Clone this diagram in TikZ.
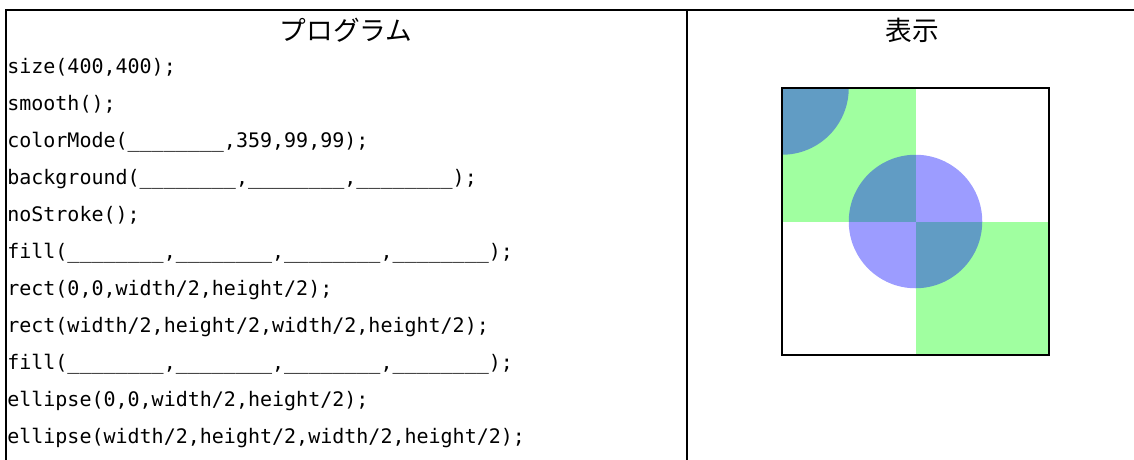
\documentclass[tikz,border=0pt]{standalone}
\usepackage{fontspec}
\usetikzlibrary{positioning}
\newfontfamily\codefont{DejaVu Sans Mono}
\newfontfamily\jpfont{Noto Sans CJK JP}
\definecolor{rectgreen}{RGB}{160,255,160}
\definecolor{ballblue}{RGB}{0,0,255}
\newcommand{\blank}{\_\_\_\_\_\_\_\_}

\begin{document}
\begin{tikzpicture}[x=0.75pt,y=-0.75pt,
  codeline/.style={anchor=north west,inner sep=0pt,text height=11pt,text depth=4pt,
    font=\codefont\fontsize{15pt}{18pt}\selectfont},
  head/.style={inner sep=0pt,font=\jpfont\fontsize{20pt}{24pt}\selectfont},
  tablerule/.style={line width=1.5pt}]
\useasboundingbox[fill=white] (0,0) rectangle (1134,460);
% table
\coordinate (tl) at (5.5,10);
\coordinate (tr) at (1134,10);
\coordinate (bl) at (5.5,460);
\coordinate (mt) at (687,10);
\coordinate (mb) at (687,460);
\draw[tablerule] (bl) -- (tl) -- (tr);
\draw[tablerule] (mt) -- (mb);
\node[head] (prog) at (346,30) {プログラム};
\node[head] (disp) at (912,30) {表示};
% program
\node[codeline] (l1) at (7,58.8) {size(400,400);};
\node[below=12.3pt of l1.south west,codeline] (l2) {smooth();};
\node[below=12.3pt of l2.south west,codeline] (l3) {colorMode(\blank,359,99,99);};
\node[below=12.3pt of l3.south west,codeline] (l4) {background(\blank,\blank,\blank);};
\node[below=12.3pt of l4.south west,codeline] (l5) {noStroke();};
\node[below=12.3pt of l5.south west,codeline] (l6) {fill(\blank,\blank,\blank,\blank);};
\node[below=12.3pt of l6.south west,codeline] (l7) {rect(0,0,width/2,height/2);};
\node[below=12.3pt of l7.south west,codeline] (l8) {rect(width/2,height/2,width/2,height/2);};
\node[below=12.3pt of l8.south west,codeline] (l9) {fill(\blank,\blank,\blank,\blank);};
\node[below=12.3pt of l9.south west,codeline] (l10) {ellipse(0,0,width/2,height/2);};
\node[below=12.3pt of l10.south west,codeline] (l11) {ellipse(width/2,height/2,width/2,height/2);};
% display
\coordinate (cvtl) at (782,88);
\coordinate (cvc) at (915.5,221.5);
\coordinate (cvbr) at (1049,355);
\fill[rectgreen] (cvtl) rectangle (cvc);
\fill[rectgreen] (cvc) rectangle (cvbr);
\begin{scope}
\clip (cvtl) rectangle (cvbr);
\fill[ballblue,opacity=0.39] (cvtl) circle (66.75);
\end{scope}
\fill[ballblue,opacity=0.39] (cvc) circle (66.75);
\draw[line width=1.1pt] (cvtl) rectangle (cvbr);
\end{tikzpicture}
\end{document}
